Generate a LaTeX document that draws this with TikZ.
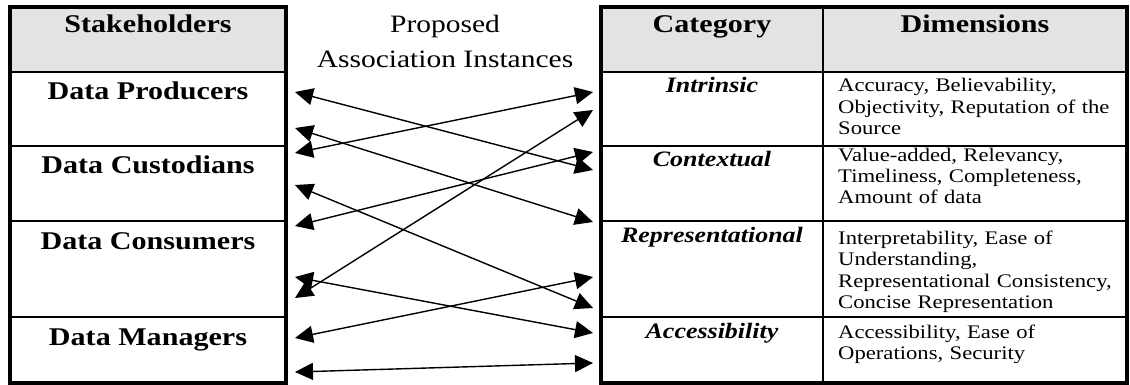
\documentclass[tikz,border=0pt]{standalone}
\usepackage{fontspec}
\setmainfont{Liberation Serif}[FakeStretch=1.18]
\usepackage{tikz}
\usetikzlibrary{positioning}
\usetikzlibrary{arrows.meta}
\definecolor{headgray}{HTML}{E3E3E3}
\tikzstyle{headtext} = [draw=none, anchor=base, inner sep=0pt, font=\fontsize{25.5}{28}\selectfont\bfseries]
\tikzstyle{stake} = [headtext]
\tikzstyle{title} = [draw=none, anchor=base, inner sep=0pt, align=center, font=\fontsize{25}{35}\selectfont]
\tikzstyle{cat} = [draw=none, anchor=base, inner sep=0pt, font=\fontsize{22}{24}\selectfont\bfseries\itshape]
\tikzstyle{dim} = [draw=none, anchor=base west, inner sep=0pt, align=left, text width=300pt, font=\fontsize{19.2}{21.5}\selectfont]
\tikzstyle{grid} = [draw, line width=1.3pt]
\tikzstyle{frame} = [draw, line width=3.5pt]
\tikzstyle{link} = [draw, line width=1.4pt, {Triangle[length=18pt,width=17pt]}-{Triangle[length=18pt,width=17pt]}]

\begin{document}
\begin{tikzpicture}[x=1pt, y=-1pt]
	\useasboundingbox (0,0) rectangle (1130,385);

	% tables
	\fill [headgray] (10,7) rectangle (286,72);
	\fill [headgray] (601,7) rectangle (1127,72);
	\path [grid] (10,72) -- (286,72) (10,146) -- (286,146) (10,221) -- (286,221) (10,317) -- (286,317);
	\path [grid] (601,72) -- (1127,72) (601,146) -- (1127,146) (601,221) -- (1127,221) (601,317) -- (1127,317);
	\path [grid] (823,7) -- (823,383);
	\path [frame] (10,7) rectangle (286,383);
	\path [frame] (601,7) rectangle (1127,383);

	% place nodes
	\node [headtext] (N0) at (148,33)  {Stakeholders};
	\node [stake]    (N1) at (148,100) {Data Producers};
	\node [stake]    (N2) at (148,173) {Data Custodians};
	\node [stake]    (N3) at (148,249) {Data Consumers};
	\node [stake]    (N4) at (148,345) {Data Managers};

	\node [title] (P0) at (445,68) {Proposed\\Association Instances};

	\node [headtext] (C0) at (712,33)  {Category};
	\node [cat]      (C1) at (712,93)  {Intrinsic};
	\node [cat]      (C2) at (712,167) {Contextual};
	\node [cat]      (C3) at (712,242) {Representational};
	\node [cat]      (C4) at (712,338) {Accessibility};

	\node [headtext] (D0) at (975,33)  {Dimensions};
	\node [dim]      (D1) at (838,92)  {Accuracy, Believability,\\Objectivity, Reputation of the\\Source};
	\node [dim]      (D2) at (838,161) {Value-added, Relevancy,\\Timeliness, Completeness,\\Amount of data};
	\node [dim]      (D3) at (838,244) {Interpretability, Ease of\\Understanding,\\Representational Consistency,\\Concise Representation};
	\node [dim]      (D4) at (838,338) {Accessibility, Ease of\\Operations, Security};

	% arrow ends
	\coordinate (L1) at (295,92);
	\coordinate (L2) at (295,128);
	\coordinate (L3) at (295,153);
	\coordinate (L4) at (295,185);
	\coordinate (L5) at (295,226);
	\coordinate (L6) at (295,277);
	\coordinate (L7) at (295,298);
	\coordinate (L8) at (295,338);
	\coordinate (L9) at (295,372);
	\coordinate (R1) at (593,92);
	\coordinate (R2) at (593,110);
	\coordinate (R3) at (593,152);
	\coordinate (R4) at (593,170);
	\coordinate (R5) at (593,222);
	\coordinate (R6) at (593,277);
	\coordinate (R7) at (593,308);
	\coordinate (R8) at (593,333);
	\coordinate (R9) at (593,363);

	% draw edges
	\path [link] (L1) -- (R4);
	\path [link] (L2) -- (R5);
	\path [link] (L3) -- (R1);
	\path [link] (L4) -- (R7);
	\path [link] (L5) -- (R3);
	\path [link] (L6) -- (R8);
	\path [link] (L7) -- (R2);
	\path [link] (L8) -- (R6);
	\path [link] (L9) -- (R9);
\end{tikzpicture}
\end{document}
